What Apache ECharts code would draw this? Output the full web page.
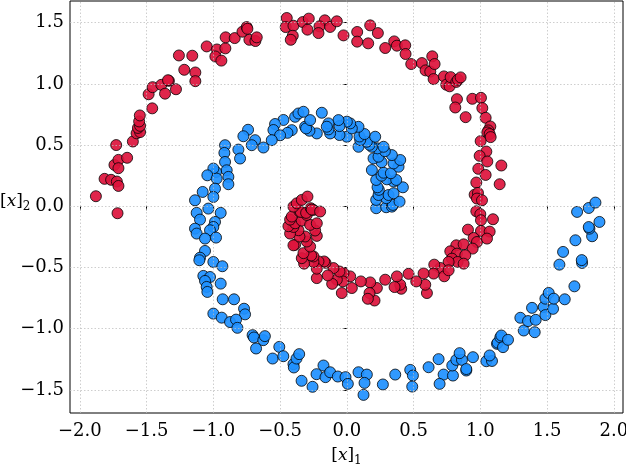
<!DOCTYPE html>
<html>
<head>
<meta charset="utf-8">
<script src="https://cdn.jsdelivr.net/npm/echarts@6/dist/echarts.min.js"></script>
<style>
  html, body { margin: 0; padding: 0; background: #fff; }
  #chart { width: 626px; height: 470px; }
</style>
</head>
<body>
<div id="chart"></div>
<script>
// tick positions on both axes
var xTicks = [-2.0, -1.5, -1.0, -0.5, 0.0, 0.5, 1.0, 1.5, 2.0];
var yTicks = [-1.5, -1.0, -0.5, 0.0, 0.5, 1.0, 1.5];

// class 1 (red spiral)
var redPoints = [
  [-1.88,0.082],[-1.718,-0.057],[-1.815,0.224],[-1.766,0.216],[-1.723,0.202],[-1.711,0.166],[-1.741,0.338],[-1.711,0.379],
  [-1.711,0.311],[-1.646,0.396],[-1.728,0.50],[-1.603,0.529],[-1.575,0.596],[-1.549,0.606],[-1.565,0.64],[-1.549,0.657],
  [-1.556,0.693],[-1.551,0.742],[-1.458,0.80],
  [-1.485,0.915],[-1.455,0.973],[-1.39,0.992],[-1.362,0.92],[-1.333,1.025],[-1.34,1.03],[-1.28,0.956],[-1.258,1.232],
  [-1.158,1.23],[-1.218,1.115],[-1.135,1.093],[-1.135,1.022],[-1.05,1.306],[-0.973,1.281],[-0.91,1.29],[-0.985,1.224],
  [-0.94,1.19],[-0.908,1.38],[-0.84,1.374],[-0.782,1.426],[-0.75,1.464],[-0.745,1.45],[-0.73,1.36],[-0.685,1.35],[-0.675,1.38],
  [-0.45,1.538],[-0.458,1.464],[-0.40,1.475],[-0.405,1.393],[-0.42,1.36],[-0.33,1.505],[-0.295,1.443],[-0.285,1.533],
  [-0.165,1.519],[-0.205,1.47],[-0.2125,1.415],[-0.125,1.465],[-0.075,1.511],[-0.025,1.396],[0.0775,1.424],[0.0775,1.345],
  [0.175,1.478],[0.16,1.331],[0.2325,1.415],[0.2875,1.293],[0.355,1.347],[0.375,1.312],[0.4375,1.315],[0.44,1.244],
  [0.4825,1.162],[0.5625,1.17],[0.64,1.225],[0.59,1.11],[0.625,1.10],[0.6575,1.162],[0.65,1.039],[0.7275,1.061],
  [0.745,0.993],[0.77,0.98],[0.7775,1.055],[0.82,1.016],[0.8325,1.034],[0.8525,1.053],
  [0.825,0.875],[0.8125,0.807],[0.89,0.728],[0.94,0.878],[1.005,0.886],[1.015,0.802],[1.04,0.723],[1.075,0.652],
  [1.06,0.62],[1.0525,0.603],[1.07,0.59],[1.0775,0.565],[1.0025,0.532],[1.045,0.447],[0.995,0.412],[1.0525,0.366],
  [1.1575,0.333],[0.985,0.306],[1.04,0.256],[1.145,0.18],[0.97,0.194],
  [0.9575,0.095],[0.9825,0.109],[0.975,0.063],[1.0125,0.049],[0.97,-0.041],[1.0,-0.065],[1.005,-0.114],[1.095,-0.106],
  [0.9075,-0.191],[1.005,-0.202],[1.07,-0.207],[0.95,-0.259],[0.975,-0.292],[1.05,-0.264],[0.82,-0.319],[0.875,-0.311],
  [0.9425,-0.346],[0.775,-0.368],[0.825,-0.387],[0.8875,-0.40],[0.7875,-0.428],[0.83,-0.455],[0.875,-0.469],[0.7625,-0.455],
  [0.70,-0.504],[0.655,-0.477],[0.65,-0.55],[0.73,-0.572],[0.7625,-0.523],
  [0.60,-0.709],[0.5875,-0.641],[0.575,-0.549],[0.52,-0.614],[0.4625,-0.552],[0.4075,-0.674],[0.40,-0.641],[0.375,-0.573],
  [0.3575,-0.66],[0.2875,-0.60],[0.225,-0.668],[0.2075,-0.77],[0.175,-0.622],[0.17,-0.709],[0.1575,-0.756],[0.105,-0.614],
  [0.0375,-0.668],[0.025,-0.573],[-0.025,-0.546],[-0.03,-0.614],[-0.0375,-0.709],[-0.075,-0.60],[-0.055,-0.533],[-0.10,-0.505],
  [-0.11,-0.634],[-0.1425,-0.565],[-0.16,-0.462],[-0.17,-0.451],[-0.2125,-0.451],[-0.225,-0.587],[-0.225,-0.51],[-0.25,-0.455],
  [-0.25,-0.41],[-0.2675,-0.402],[-0.32,-0.469],[-0.3375,-0.424],[-0.325,-0.383],[-0.275,-0.329],[-0.3875,-0.315],[-0.40,-0.319],
  [-0.30,-0.288],[-0.3125,-0.247],[-0.355,-0.247],[-0.225,-0.242],[-0.2375,-0.198],[-0.3625,-0.196],[-0.425,-0.223],[-0.40,-0.169],
  [-0.4375,-0.163],[-0.3875,-0.139],[-0.3375,-0.117],[-0.275,-0.152],[-0.225,-0.139],[-0.425,-0.109],[-0.4125,-0.084],[-0.30,-0.071],
  [-0.355,-0.043],[-0.345,-0.046],[-0.305,-0.054],[-0.27,-0.016],[-0.25,-0.03],[-0.2625,-0.027],[-0.20,-0.043],[-0.40,-0.003],
  [-0.375,0.024],[-0.3375,0.052],[-0.295,0.079]
];

// class 2 (blue spiral)
var bluePoints = [
  [0.22,-0.016],[0.295,-0.008],[0.3375,-0.003],[0.345,0.011],[0.395,0.038],[0.22,0.052],[0.295,0.066],[0.2375,0.092],
  [0.3125,0.092],[0.35,0.106],[0.24,0.134],[0.23,0.155],[0.42,0.155],[0.35,0.202],[0.22,0.215],[0.30,0.22],[0.37,0.215],
  [0.26,0.25],[0.275,0.274],[0.33,0.27],[0.1875,0.296],[0.3875,0.323],[0.35,0.35],[0.26,0.36],[0.40,0.378],[0.20,0.391],
  [0.2375,0.405],[0.3375,0.418],[0.285,0.45],[0.23,0.473],[0.1875,0.486],[0.275,0.486],[0.0875,0.486],[0.17,0.502],
  [0.15,0.527],[0.10,0.541],[0.2125,0.568],[0.095,0.57],[0.1325,0.59],[0.0,0.568],[0.0875,0.649],[0.0375,0.636],
  [0.025,0.677],[0.0,0.691],[-0.055,0.582],[-0.055,0.655],[-0.0625,0.704],[-0.125,0.595],[-0.1375,0.628],[-0.1375,0.677],
  [-0.15,0.65],[-0.1875,0.764],[-0.225,0.595],[-0.28,0.617],[-0.3125,0.65],[-0.305,0.636],[-0.275,0.704],[-0.3875,0.731],
  [-0.3625,0.758],[-0.325,0.772],[-0.4125,0.622],[-0.445,0.60],[-0.475,0.705],[-0.5375,0.672],[-0.55,0.623],
  [-0.50,0.58],[-0.5625,0.54],[-0.625,0.48],[-0.6875,0.54],[-0.7125,0.499],[-0.74,0.625],[-0.775,0.572],[-0.8125,0.463],
  [-0.80,0.39],[-0.9125,0.499],[-0.9175,0.436],[-0.9125,0.362],[-0.90,0.294],[-0.98,0.28],[-1.0,0.308],[-1.045,0.253],
  [-0.975,0.226],[-0.8875,0.24],[-0.8875,0.18],[-0.9875,0.144],[-1.0,0.076],[-1.08,0.117],[-1.1375,0.049],[-1.0375,-0.019],
  [-1.125,-0.054],[-0.945,-0.054],[-1.10,-0.109],[-0.9875,-0.128],[-1.0,-0.169],[-1.025,-0.196],[-1.1375,-0.183],[-1.125,-0.223],
  [-1.0625,-0.264],[-0.98,-0.256],[-1.0625,-0.365],[-1.1,-0.42],[-1.105,-0.441],[-1.0,-0.455],[-0.9325,-0.49],[-1.075,-0.569],
  [-1.025,-0.578],[-1.0625,-0.61],[-0.945,-0.632],[-1.05,-0.659],[-1.045,-0.70],[-0.93,-0.76],[-0.845,-0.76],[-0.77,-0.837],
  [-0.7625,-0.883],[-1.0,-0.877],[-0.9375,-0.91],[-0.875,-0.946],[-0.83,-0.926],
  [-0.82,-0.993],[-0.706,-1.053],[-0.696,-1.072],[-0.626,-1.094],[-0.614,-1.061],[-0.68,-1.162],[-0.556,-1.244],[-0.506,-1.149],
  [-0.476,-1.225],[-0.40,-1.29],[-0.397,-1.317],[-0.377,-1.244],[-0.357,-1.208],[-0.339,-1.426],[-0.257,-1.475],[-0.227,-1.372],
  [-0.175,-1.301],[-0.16,-1.396],[-0.125,-1.356],[-0.0675,-1.391],[-0.01,-1.396],[0.0075,-1.451],[0.0875,-1.356],[0.15,-1.375],
  [0.1325,-1.443],[0.125,-1.541],[0.27,-1.456],[0.3625,-1.375],[0.475,-1.337],[0.495,-1.383],[0.49,-1.473],[0.6125,-1.315],
  [0.6875,-1.249],[0.725,-1.375],[0.695,-1.451],[0.795,-1.383],[0.79,-1.301],[0.82,-1.255],[0.8625,-1.255],[0.845,-1.20],
  [0.895,-1.342],[0.895,-1.33],[0.945,-1.233],[1.045,-1.266],[1.0875,-1.264],[1.07,-1.219],[1.125,-1.124],[1.13,-1.114],
  [1.15,-1.071],[1.1575,-1.056],[1.17,-1.151],[1.2075,-1.091],
  [1.30,-0.911],[1.325,-1.015],[1.3575,-0.938],[1.415,-0.928],[1.4075,-1.029],[1.3875,-0.83],[1.475,-0.823],[1.4875,-0.889],
  [1.545,-0.838],[1.4875,-0.755],[1.5125,-0.708],[1.55,-0.755],[1.6325,-0.76],[1.705,-0.654],[1.5925,-0.477],[1.7625,-0.463],
  [1.76,-0.44],[1.62,-0.373],[1.7125,-0.278],[1.8375,-0.245],[1.8175,-0.183],[1.8125,-0.17],[1.8925,-0.128],[1.725,-0.046],
  [1.8125,-0.014],[1.8625,0.03]
];

var myChart = echarts.init(document.getElementById('chart'));

var serif = 'DejaVu Serif';
// minus sign like in the original
function fmt(v) {
  return (v < 0 ? '\u2212' : '') + Math.abs(v).toFixed(1);
}
var nameRich = {
  t: { fontFamily: serif, fontSize: 17, color: '#000', lineHeight: 22, verticalAlign: 'middle' },
  i: { fontFamily: serif, fontSize: 17, fontStyle: 'italic', color: '#000', lineHeight: 22, verticalAlign: 'middle' },
  s: { fontFamily: serif, fontSize: 12, color: '#000', lineHeight: 12, verticalAlign: 'bottom' }
};

var gridLines = [];
xTicks.forEach(function (v) { gridLines.push({ xAxis: v }); });
yTicks.forEach(function (v) { gridLines.push({ yAxis: v }); });

var option = {
  animation: false,
  backgroundColor: '#fff',
  grid: {
    left: 70, right: 3, top: 1, bottom: 57,
    containLabel: false,
    outerBoundsMode: 'none',
    show: true, borderColor: '#000', borderWidth: 1
  },
  xAxis: {
    type: 'value',
    min: -2.074, max: 2.069,
    name: '{t|[}{i|x}{t|]}{s|1}',
    nameLocation: 'middle',
    nameGap: 32,
    nameMoveOverlap: false,
    nameTextStyle: { rich: nameRich },
    axisLine: { show: false },
    splitLine: { show: false },
    axisTick: { show: true, customValues: xTicks, length: 4, lineStyle: { color: '#000' } },
    axisLabel: {
      customValues: xTicks, formatter: fmt, margin: 9,
      fontFamily: serif, fontSize: 18, color: '#000'
    }
  },
  yAxis: {
    type: 'value',
    min: -1.689, max: 1.677,
    name: '{t|[}{i|x}{t|]}{s|2}',
    nameLocation: 'middle',
    nameRotate: 0,
    nameGap: 70,
    nameMoveOverlap: false,
    nameTextStyle: { rich: nameRich, align: 'left', verticalAlign: 'middle', padding: [0, 0, 10, 0] },
    axisLine: { show: false },
    splitLine: { show: false },
    axisTick: { show: true, customValues: yTicks, length: 4, lineStyle: { color: '#000' } },
    axisLabel: {
      customValues: yTicks, formatter: fmt, margin: 6,
      fontFamily: serif, fontSize: 18, color: '#000'
    }
  },
  series: [
    {
      name: 'red', type: 'scatter', data: redPoints,
      symbolSize: 11,
      itemStyle: { color: '#DC143C', borderColor: 'rgba(0,0,0,0.85)', borderWidth: 1, opacity: 0.92 }
    },
    {
      name: 'blue', type: 'scatter', data: bluePoints,
      symbolSize: 11,
      itemStyle: { color: '#1E90FF', borderColor: 'rgba(0,0,0,0.85)', borderWidth: 1, opacity: 0.92 }
    },
    {
      // dotted grid drawn above the points like matplotlib does
      name: 'grid', type: 'scatter', data: [], z: 5,
      markLine: {
        silent: true, symbol: 'none', animation: false,
        label: { show: false },
        lineStyle: { color: 'rgba(190,190,190,0.75)', type: [1.5, 2], width: 1 },
        data: gridLines
      }
    }
  ]
};

myChart.setOption(option);
</script>
</body>
</html>
